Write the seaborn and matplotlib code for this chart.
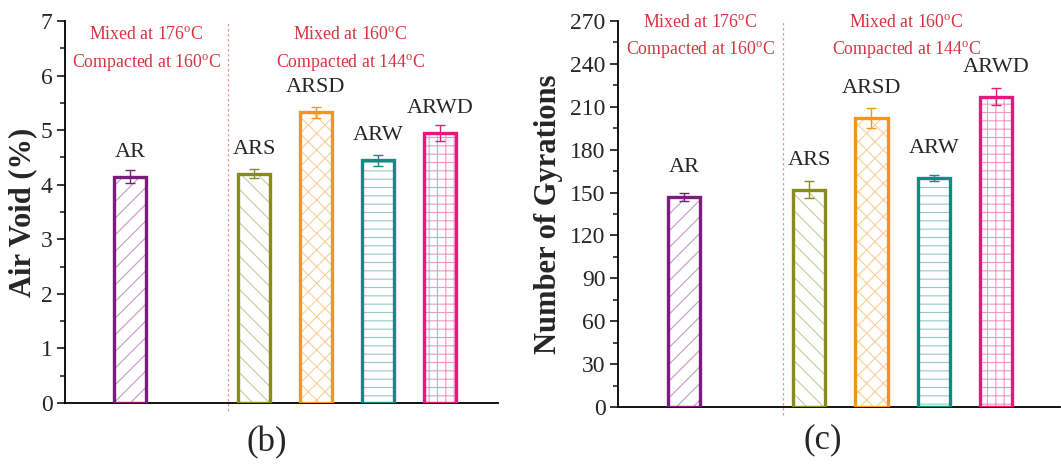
"""
Air void and gyration counts for the AR mixes - two bar panels, (b) and (c).
"""

import numpy as np
import pandas as pd
import matplotlib
matplotlib.use("Agg")
import matplotlib.pyplot as plt
from matplotlib.colors import to_rgb
from matplotlib.patches import Rectangle
from matplotlib.ticker import MultipleLocator, AutoMinorLocator
import seaborn as sns

sns.set_style("ticks")
plt.rcParams["font.family"] = ["Liberation Serif", "DejaVu Serif"]
plt.rcParams["mathtext.fontset"] = "custom"
plt.rcParams["mathtext.rm"] = "Liberation Serif"
plt.rcParams["hatch.linewidth"] = 0.8

# ============================================================
# DATA
# ============================================================
mixes = ["AR", "ARS", "ARSD", "ARW", "ARWD"]
positions = [0, 2, 3, 4, 5]

air_void = [4.15, 4.20, 5.33, 4.45, 4.95]
air_void_err = [0.12, 0.08, 0.10, 0.10, 0.14]

gyrations = [147, 152, 202, 160, 217]
gyrations_err = [3, 6, 7, 2, 6]

group_text = [
    ["Mixed at 176$^{\\rm o}$C", "Compacted at 160$^{\\rm o}$C"],
    ["Mixed at 160$^{\\rm o}$C", "Compacted at 144$^{\\rm o}$C"],
]

# ============================================================
# STYLE
# ============================================================
colors = ["#7b1d7e", "#8a8a1e", "#f7941d", "#148a87", "#e8177d"]
hatches = ["//", "\\\\", "xx", "--", "++"]
light = [tuple(0.45 * np.array(to_rgb(c)) + 0.55) for c in colors]
RED = "#d63340"


def draw_panel(ax, values, errs, ymax, ystep, ylabel, panel, label_pad,
               text_y, xlim, label_x, panel_xy):
    df = pd.DataFrame({"pos": positions, "value": values, "mix": mixes})
    sns.barplot(data=df, x="pos", y="value", hue="mix", hue_order=mixes,
                palette=dict(zip(mixes, colors)), native_scale=True,
                width=0.52, dodge=False, errorbar=None, legend=False, ax=ax)

    bars = list(ax.patches)
    for patch, c, lc, h in zip(bars, colors, light, hatches):
        patch.set_facecolor("white")
        patch.set_edgecolor(lc)
        patch.set_hatch(h)
        patch.set_linewidth(0)
        ax.add_patch(Rectangle(patch.get_xy(), patch.get_width(), patch.get_height(),
                               fill=False, edgecolor=c, linewidth=2.4, zorder=3))

    for p, v, e, c, m in zip(positions, values, errs, colors, mixes):
        ax.errorbar(p, v, yerr=e, fmt="none", ecolor=c, elinewidth=1.0,
                    capsize=3.5, capthick=1.0, zorder=4)
        ax.text(p, v + label_pad, m, ha="center", va="bottom", fontsize=16)

    # group divider + processing temperatures
    ax.axvline(1.58, ymin=-0.02, ymax=1.0, color="#e39a9a", lw=0.9,
               ls=(0, (2, 2)), clip_on=False, zorder=1)
    for x, lines in zip([0.26, 3.56], group_text):
        ax.text(x, text_y[0], lines[0], color=RED, fontsize=12.8, ha="center", va="center")
        ax.text(x, text_y[1], lines[1], color=RED, fontsize=12.8, ha="center", va="center")

    ax.set_xlim(*xlim)
    ax.set_ylim(0, ymax)
    ax.yaxis.set_major_locator(MultipleLocator(ystep))
    ax.yaxis.set_minor_locator(AutoMinorLocator(2))
    ax.tick_params(axis="x", bottom=False, labelbottom=False)
    ax.tick_params(axis="y", which="major", length=6, width=1.3, labelsize=17, pad=3)
    ax.tick_params(axis="y", which="minor", length=3.5, width=1.2, left=True)
    ax.set_xlabel("")
    ax.set_ylabel(ylabel, fontsize=22, fontweight="bold")
    ax.yaxis.set_label_coords(label_x, 0.5)
    for side in ["top", "right"]:
        ax.spines[side].set_visible(False)
    for side in ["left", "bottom"]:
        ax.spines[side].set_linewidth(1.3)
        ax.spines[side].set_color("black")
    ax.text(panel_xy[0], panel_xy[1], panel, transform=ax.transAxes,
            ha="center", va="center", fontsize=25)


fig = plt.figure(figsize=(10.61, 4.67), dpi=100)
ax_b = fig.add_axes([0.0613, 0.137, 0.4081, 0.818])
ax_c = fig.add_axes([0.5825, 0.1285, 0.4170, 0.8265])

draw_panel(ax_b, air_void, air_void_err, 7, 1, "Air Void (%)", "(b)", 0.27,
           (6.74, 6.23), (-1.05, 5.94), -0.065, (0.467, -0.105))
draw_panel(ax_c, gyrations, gyrations_err, 270, 30, "Number of Gyrations", "(c)", 14,
           (268.6, 249.7), (-1.06, 6.03), -0.124, (0.463, -0.085))

plt.savefig("out.png", dpi=100)
plt.close()
